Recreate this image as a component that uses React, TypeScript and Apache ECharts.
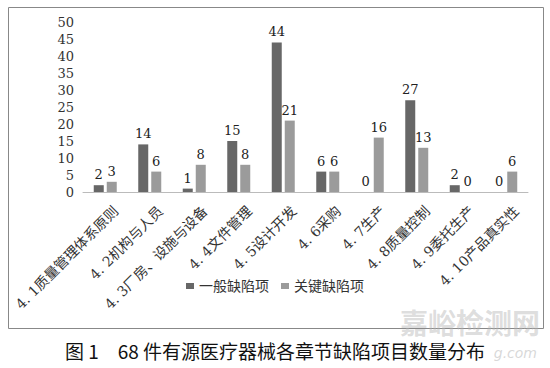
import React, { useEffect, useRef } from "react";
import * as echarts from "echarts";

const categories = [
  "4. 1质量管理体系原则",
  "4. 2机构与人员",
  "4. 3厂房、设施与设备",
  "4. 4文件管理",
  "4. 5设计开发",
  "4. 6采购",
  "4. 7生产",
  "4. 8质量控制",
  "4. 9委托生产",
  "4. 10产品真实性",
];
const general = [2, 14, 1, 15, 44, 6, 0, 27, 2, 0];
const key = [3, 6, 8, 8, 21, 6, 16, 13, 0, 6];
const seriesNames = ["一般缺陷项", "关键缺陷项"];
const title = "图 1　68 件有源医疗器械各章节缺陷项目数量分布";

export default function App() {
  const ref = useRef<HTMLDivElement>(null);
  useEffect(() => {
    const chart = echarts.init(ref.current!, null, { renderer: "svg" });
    const serif = "'DejaVu Serif', 'Liberation Serif', 'Noto Sans CJK SC', serif";
    const labelStyle = {
      show: true,
      position: "top" as const,
      color: "#222",
      fontSize: 13,
      fontFamily: serif,
      distance: 4,
    };
    chart.setOption({
      animation: false,
      backgroundColor: "#fff",
      grid: { left: 83, right: 22, top: 22, bottom: 176, containLabel: false },
      legend: {
        data: seriesNames,
        left: "center",
        top: 274,
        itemWidth: 8,
        itemHeight: 6,
        itemGap: 12,
        icon: "rect",
        textStyle: { fontSize: 14, color: "#333", fontFamily: serif },
      },
      xAxis: {
        type: "category",
        data: categories,
        axisLine: { lineStyle: { color: "#bbb" } },
        axisTick: { show: false },
        axisLabel: {
          rotate: 45,
          interval: 0,
          fontSize: 14,
          color: "#333",
          fontFamily: serif,
          margin: 6,
          verticalAlign: "top",
          padding: [8, 0, 0, 0],
        },
      },
      yAxis: {
        type: "value",
        min: 0,
        max: 50,
        interval: 5,
        axisLine: { show: false },
        axisTick: { show: false },
        splitLine: { show: false },
        axisLabel: { fontSize: 13, color: "#333", fontFamily: serif, margin: 9 },
      },
      series: [
        {
          name: seriesNames[0],
          type: "bar",
          data: general,
          barWidth: 10,
          barGap: "30%",
          itemStyle: { color: "#676767" },
          label: labelStyle,
        },
        {
          name: seriesNames[1],
          type: "bar",
          data: key,
          barWidth: 10,
          barGap: "30%",
          itemStyle: { color: "#9b9b9b" },
          label: labelStyle,
        },
      ],
      graphic: [
        {
          type: "rect",
          shape: { x: 8.5, y: 7.5, width: 535, height: 321 },
          style: { fill: "none", stroke: "#888", lineWidth: 1 },
          silent: true,
        },
        {
          type: "text",
          x: 400,
          y: 308,
          style: {
            text: "嘉峪检测网",
            fontSize: 28,
            fontWeight: "bold",
            fill: "rgba(180,180,180,0.45)",
            fontFamily: "'Noto Sans CJK SC', sans-serif",
          },
          silent: true,
        },
        {
          type: "text",
          x: 537,
          y: 346,
          style: {
            text: "g.com",
            fontSize: 14,
            fontStyle: "italic",
            align: "right",
            fill: "rgba(190,190,190,0.6)",
            fontFamily: "'DejaVu Sans', sans-serif",
          },
          silent: true,
        },
        {
          type: "text",
          left: "center",
          top: 341,
          style: {
            text: title,
            fontSize: 19,
            fill: "#111",
            fontFamily: "'Noto Sans CJK SC', 'Noto Sans', sans-serif",
          },
          silent: true,
        },
      ],
    });
    return () => chart.dispose();
  }, []);
  return (
    <div
      ref={ref}
      style={{ width: 550, height: 368, position: "fixed", left: 0, top: 0 }}
    />
  );
}
